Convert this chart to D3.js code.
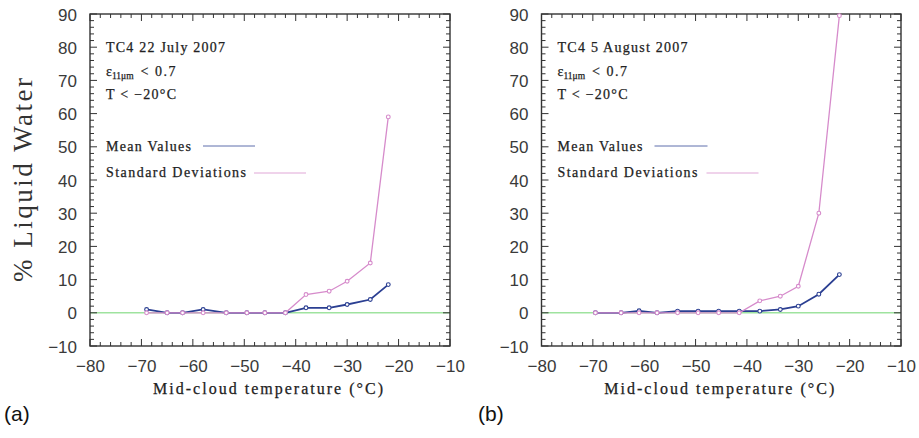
<!DOCTYPE html>
<html><head><meta charset="utf-8">
<script src="https://cdn.jsdelivr.net/npm/d3@7"></script>
<style>body{margin:0;background:#fff}svg{display:block}</style>
</head><body>
<svg id="c" width="919" height="438"></svg>
<script>
// ---- data ----
const tempsA = [-69, -65, -62, -58, -53.5, -49.5, -46, -42, -38, -33.5, -30, -25.5, -22];
const meanA  = [1.0, 0, 0, 1.0, 0, 0, 0, 0, 1.5, 1.5, 2.5, 4.0, 8.5];
const stdA   = [0, 0, 0, 0, 0, 0, 0, 0, 5.5, 6.5, 9.5, 15, 59];
const tempsB = [-69.5, -64.5, -61, -57.5, -53.5, -49.5, -45.5, -41.5, -37.5, -33.5, -30, -26, -22];
const meanB  = [0, 0, 0.6, 0, 0.5, 0.5, 0.5, 0.5, 0.5, 1.0, 2.0, 5.6, 11.5];
const stdB   = [0, 0, 0, 0, 0, 0, 0, 0, 3.6, 5.0, 8.0, 30, 89.5];
const xTicks = [-80, -70, -60, -50, -40, -30, -20, -10];
const yTicks = [-10, 0, 10, 20, 30, 40, 50, 60, 70, 80, 90];
const titleA = "TC4 22 July 2007";
const titleB = "TC4 5 August 2007";
const legendLabels = ["Mean Values", "Standard Deviations"];
const xLabel = "Mid-cloud temperature (°C)";
const yLabel = "% Liquid Water";

const svg = d3.select("#c");
const BLUE = "#2b3f92", PINK = "#d68bcb", GREEN = "#9fe39f", AX = "#333";
const serif = "'Liberation Serif','DejaVu Serif',serif";
const sans = "'Liberation Sans',Arial,sans-serif";
const fmt = d => d < 0 ? "\u2212" + Math.abs(d) : String(d);

function panel(p) {
  const x = d3.scaleLinear().domain([-80, -10]).range([p.x0, p.x1]);
  const y = d3.scaleLinear().domain([-10, 90]).range([p.y1, p.y0]);
  const g = svg.append("g");

  // zero line
  g.append("line").attr("x1", p.x0).attr("x2", p.x1)
    .attr("y1", y(0)).attr("y2", y(0))
    .attr("stroke", GREEN).attr("stroke-width", 1.6);

  // ticks inside (all four sides)
  const xMinor = d3.range(-80, -9, 2), yMinor = d3.range(-10, 91, 2);
  xMinor.forEach(v => {
    const L = v % 10 === 0 ? 7 : 4;
    g.append("line").attr("x1", x(v)).attr("x2", x(v)).attr("y1", p.y1).attr("y2", p.y1 - L).attr("stroke", AX).attr("stroke-width", 1);
    g.append("line").attr("x1", x(v)).attr("x2", x(v)).attr("y1", p.y0).attr("y2", p.y0 + L).attr("stroke", AX).attr("stroke-width", 1);
  });
  yMinor.forEach(v => {
    const L = v % 10 === 0 ? 7 : 4;
    g.append("line").attr("y1", y(v)).attr("y2", y(v)).attr("x1", p.x0).attr("x2", p.x0 + L).attr("stroke", AX).attr("stroke-width", 1);
    g.append("line").attr("y1", y(v)).attr("y2", y(v)).attr("x1", p.x1).attr("x2", p.x1 - L).attr("stroke", AX).attr("stroke-width", 1);
  });

  // box
  g.append("rect").attr("x", p.x0).attr("y", p.y0).attr("width", p.x1 - p.x0).attr("height", p.y1 - p.y0)
    .attr("fill", "none").attr("stroke", AX).attr("stroke-width", 1.4);

  // tick labels via axes (tick lines hidden)
  const xa = g.append("g").attr("transform", `translate(0,${p.y1})`)
    .call(d3.axisBottom(x).tickValues(xTicks).tickFormat(fmt).tickSize(0).tickPadding(14));
  const ya = g.append("g").attr("transform", `translate(${p.x0},0)`)
    .call(d3.axisLeft(y).tickValues(yTicks).tickFormat(fmt).tickSize(0).tickPadding(13));
  [xa, ya].forEach(a => {
    a.select(".domain").remove();
    a.selectAll("text").attr("font-family", sans).attr("font-size", 17).attr("fill", "#3a3a3a");
  });
  ya.selectAll("text").attr("dy", "0.36em");

  // series
  const clip = "clip" + p.id;
  svg.append("clipPath").attr("id", clip).append("rect")
    .attr("x", p.x0).attr("y", p.y0 - 2).attr("width", p.x1 - p.x0).attr("height", p.y1 - p.y0 + 2);
  const series = [{v: p.mean, c: BLUE, w: 1.8}, {v: p.std, c: PINK, w: 1.3}];
  series.forEach(s => {
    const pts = p.t.map((t, i) => [t, s.v[i]]);
    const sg = g.append("g").attr("clip-path", `url(#${clip})`);
    sg.append("path").datum(pts)
      .attr("d", d3.line().x(d => x(d[0])).y(d => y(d[1])))
      .attr("fill", "none").attr("stroke", s.c).attr("stroke-width", s.w);
    sg.selectAll("circle").data(pts).join("circle")
      .attr("cx", d => x(d[0])).attr("cy", d => y(d[1])).attr("r", 1.9)
      .attr("fill", "#fff").attr("stroke", s.c).attr("stroke-width", 1.1);
  });

  // annotation text
  const tx = p.x0 + 16;
  const txt = (s, yy, len) => g.append("text").attr("x", tx).attr("y", yy)
    .attr("font-family", serif).attr("font-size", 14).attr("fill", "#222")
    .attr("stroke", "#222").attr("stroke-width", 0.25)
    .attr("textLength", len).attr("lengthAdjust", "spacing").text(s);
  txt(p.title, 52, p.titleLen);
  const e = g.append("text").attr("x", tx).attr("y", 76).attr("font-family", serif).attr("font-size", 14).attr("fill", "#222")
    .attr("stroke", "#222").attr("stroke-width", 0.25);
  e.append("tspan").text("\u03b5");
  e.append("tspan").attr("font-size", 9.5).attr("dy", 3).text("11\u03bcm");
  e.append("tspan").attr("dy", -3).attr("dx", 7).attr("letter-spacing", 1.5).text("<  0.7");
  txt("T  <  \u221220\u00b0C", 99, 70);
  txt(legendLabels[0], 151, 85);
  txt(legendLabels[1], 177, 140);
  g.append("line").attr("x1", p.x0 + p.l1[0]).attr("x2", p.x0 + p.l1[1]).attr("y1", 146).attr("y2", 146)
    .attr("stroke", BLUE).attr("stroke-width", 1).attr("opacity", 0.75);
  g.append("line").attr("x1", p.x0 + p.l2[0]).attr("x2", p.x0 + p.l2[1]).attr("y1", 173).attr("y2", 173)
    .attr("stroke", PINK).attr("stroke-width", 1).attr("opacity", 0.75);

  // x label
  g.append("text").attr("x", (p.x0 + p.x1) / 2 - 2).attr("y", 394).attr("text-anchor", "middle")
    .attr("font-family", serif).attr("font-size", 16).attr("fill", "#222")
    .attr("stroke", "#222").attr("stroke-width", 0.25)
    .attr("textLength", 230).attr("lengthAdjust", "spacing").text(xLabel);

  g.append("text").attr("x", p.lx).attr("y", 421).attr("font-family", sans).attr("font-size", 21).attr("fill", "#111").text(p.letter);
}

panel({id: "a", x0: 90, x1: 450, y0: 14, y1: 346, t: tempsA, mean: meanA, std: stdA,
  title: titleA, titleLen: 119, l1: [113, 165], l2: [164, 216], letter: "(a)", lx: 4});
panel({id: "b", x0: 541.5, x1: 901, y0: 14, y1: 346, t: tempsB, mean: meanB, std: stdB,
  title: titleB, titleLen: 130, l1: [113, 166], l2: [165, 217], letter: "(b)", lx: 478});

// y label (panel a only)
svg.append("text").attr("transform", "translate(32,180) rotate(-90)").attr("text-anchor", "middle")
  .attr("font-family", serif).attr("font-size", 27).attr("fill", "#333")
  .attr("textLength", 204).attr("lengthAdjust", "spacing").text(yLabel);
</script>
</body></html>
